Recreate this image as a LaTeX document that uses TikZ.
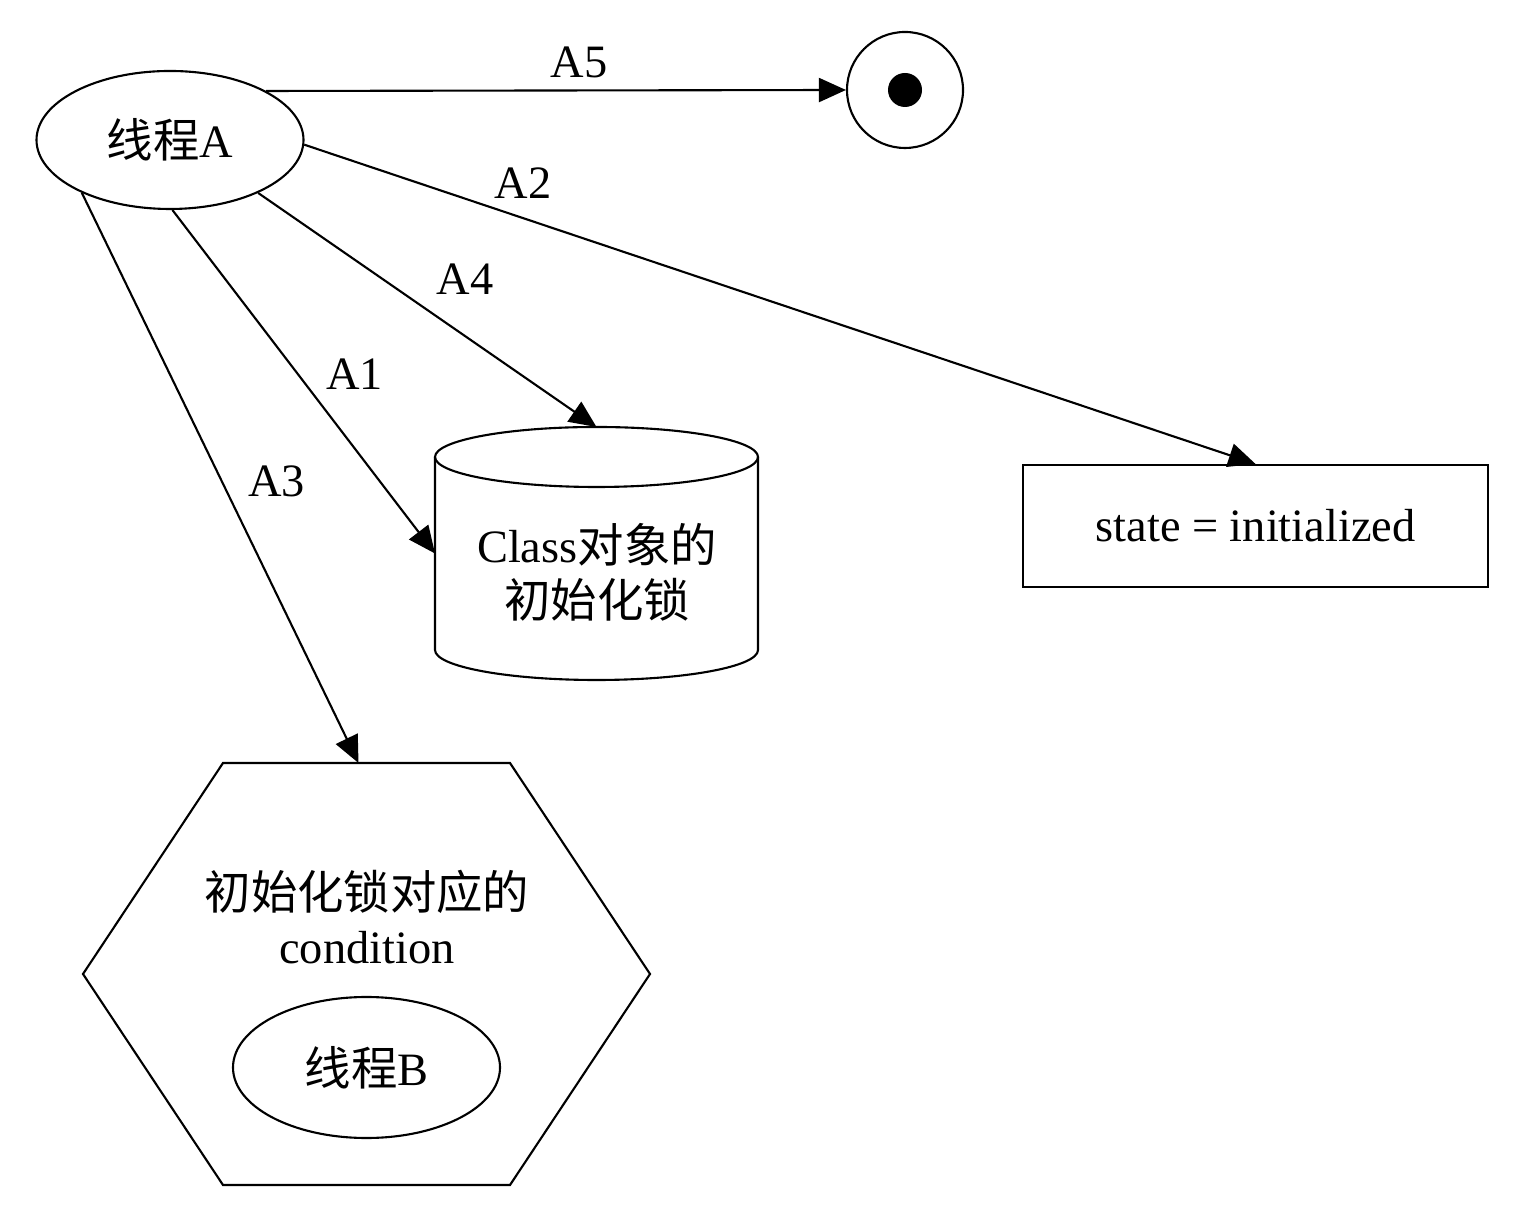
\documentclass[tikz,border=0pt]{standalone}
\usepackage{fontspec}
\setmainfont{Liberation Serif}
\newfontfamily\cjk{Noto Sans CJK SC}
\usetikzlibrary{shapes.geometric,arrows.meta}

\begin{document}
\begin{tikzpicture}[font=\fontsize{13.2}{15.6}\selectfont, line width=0.6pt,
	thread/.style={draw, ellipse, minimum width=2.67cm, minimum height=1.38cm, inner sep=0pt},
	flow/.style={arrows={-Triangle[length=2.7mm, width=2.4mm]}},
	frame/.style={inner sep=0pt, outer sep=0pt}]
	\useasboundingbox (0,0) rectangle (15.34,12.10);
	\node[thread] (ta) at (1.70,10.70) {{\cjk 线程}A};
	\node[draw, circle, minimum size=1.16cm, inner sep=0pt] (fin) at (9.05,11.20) {};
	\fill (fin.center) circle (0.17);
	\node[draw, minimum width=4.65cm, minimum height=1.22cm] (state) at (12.555,6.84) {state = initialized};
	\node[frame, minimum width=3.23cm, minimum height=2.53cm] (lock) at (5.965,6.565) {};
	\draw ([yshift=-3mm]lock.north) ellipse [x radius=1.615cm, y radius=3mm];
	\draw ([yshift=-3mm]lock.north west) -- ([yshift=3mm]lock.south west) arc [start angle=180, end angle=360, x radius=1.615cm, y radius=3mm] -- ([yshift=-3mm]lock.north east);
	\node[align=center] (locktxt) at (5.97,6.38) {Class{\cjk 对象的}\\{\cjk 初始化锁}};
	\node[frame, minimum width=5.67cm, minimum height=4.22cm] (cond) at (3.665,2.36) {};
	\draw (cond.west) -- ([xshift=1.4cm]cond.north west) -- ([xshift=-1.4cm]cond.north east) -- (cond.east) -- ([xshift=-1.4cm]cond.south east) -- ([xshift=1.4cm]cond.south west) -- cycle;
	\node[align=center] (condtxt) at (3.67,2.93) {{\cjk 初始化锁对应的}\\condition};
	\node[thread, minimum height=1.41cm] (tb) at (3.665,1.425) {{\cjk 线程}B};

	\draw[flow] (ta.27) -- (fin.west) node[pos=0.54, above] (la5) {A5};
	\draw[flow] (ta.-2) -- (state.north) node[pos=0.23, above=2pt] (la2) {A2};
	\draw[flow] (ta.-31) -- (lock.north) node[pos=0.49, above right] (la4) {A4};
	\draw[flow] (ta.-88) -- (lock.west) node[pos=0.55, above right=-1pt] (la1) {A1};
	\draw[flow] (ta.211) -- ([xshift=-0.08cm]cond.north) node[pos=0.555, above right] (la3) {A3};
\end{tikzpicture}
\end{document}
